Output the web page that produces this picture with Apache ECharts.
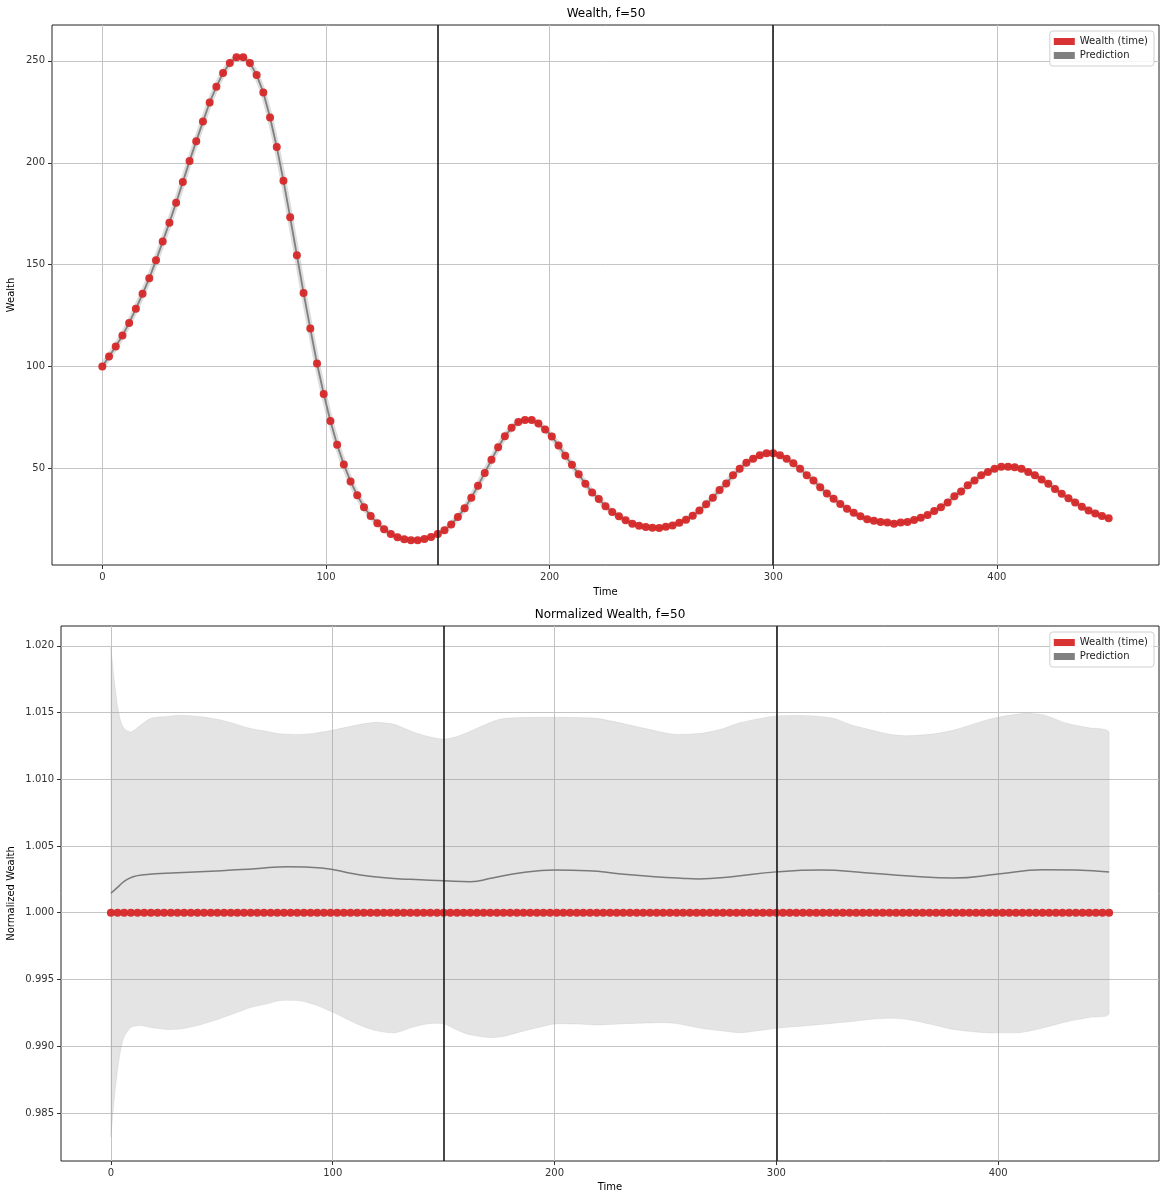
<!DOCTYPE html>
<html>
<head>
<meta charset="utf-8">
<script src="https://cdn.jsdelivr.net/npm/echarts@6/dist/echarts.min.js"></script>
<style>
html,body{margin:0;padding:0;background:#fff;}
#chart{width:1162px;height:1193px;}
</style>
</head>
<body>
<div id="chart"></div>
<script>
// ---- data ----
const time = [0,3,6,9,12,15,18,21,24,27,30,33,36,39,42,45,48,51,54,57,60,63,66,69,72,75,78,81,84,87,90,93,96,99,102,105,108,111,114,117,120,123,126,129,132,135,138,141,144,147,150,153,156,159,162,165,168,171,174,177,180,183,186,189,192,195,198,201,204,207,210,213,216,219,222,225,228,231,234,237,240,243,246,249,252,255,258,261,264,267,270,273,276,279,282,285,288,291,294,297,300,303,306,309,312,315,318,321,324,327,330,333,336,339,342,345,348,351,354,357,360,363,366,369,372,375,378,381,384,387,390,393,396,399,402,405,408,411,414,417,420,423,426,429,432,435,438,441,444,447,450];

const wealth = [100,104.9,109.8,115.2,121.4,128.3,135.7,143.3,152.1,161.3,170.6,180.4,190.5,200.8,210.6,220.2,229.6,237.3,244.1,249.0,251.8,251.8,249.0,243.1,234.5,222.2,207.7,191.2,173.2,154.6,136.1,118.6,101.5,86.5,73.3,61.6,51.9,43.6,36.8,31.0,26.6,23.1,20.2,17.8,16.2,15.2,14.7,14.7,15.4,16.3,17.8,19.6,22.5,26.1,30.4,35.6,41.5,47.8,54.2,60.4,65.8,69.9,72.8,73.8,73.8,72.0,69.1,65.7,61.3,56.2,51.8,47.1,42.5,38.2,35.0,31.4,28.6,26.5,24.5,22.9,21.9,21.2,20.9,20.8,21.4,22.0,23.3,24.8,26.8,29.4,32.4,35.6,39.4,42.6,46.6,49.8,52.8,54.7,56.5,57.4,57.4,56.4,54.7,52.5,49.8,46.7,44.1,40.7,37.7,35.1,32.5,30.2,28.2,26.5,25.1,24.3,23.7,23.4,22.9,23.4,23.7,24.7,25.8,27.1,29.1,31.0,33.3,36.3,38.7,41.7,44.1,46.6,48.3,49.8,50.8,50.8,50.6,49.8,48.3,46.6,44.6,42.5,39.9,37.6,35.3,33.3,31.2,29.4,27.9,26.6,25.5];

const normWealth = [1,1,1,1,1,1,1,1,1,1,1,1,1,1,1,1,1,1,1,1,1,1,1,1,1,1,1,1,1,1,1,1,1,1,1,1,1,1,1,1,1,1,1,1,1,1,1,1,1,1,1,1,1,1,1,1,1,1,1,1,1,1,1,1,1,1,1,1,1,1,1,1,1,1,1,1,1,1,1,1,1,1,1,1,1,1,1,1,1,1,1,1,1,1,1,1,1,1,1,1,1,1,1,1,1,1,1,1,1,1,1,1,1,1,1,1,1,1,1,1,1,1,1,1,1,1,1,1,1,1,1,1,1,1,1,1,1,1,1,1,1,1,1,1,1,1,1,1,1,1,1];

const predT = [0,3,6,10,15,30,50,65,80,95,110,121,135,150,162,172,185,200,215,230,245,257,265,280,300,320,340,360,380,400,420,435,450];
const predNorm = [1.00146,1.0019,1.00235,1.0027,1.00285,1.0030,1.00315,1.0033,1.00345,1.00335,1.0029,1.00265,1.0025,1.0024,1.00232,1.0026,1.0030,1.0032,1.00315,1.0029,1.0027,1.00258,1.00253,1.0027,1.00306,1.0032,1.0030,1.00275,1.0026,1.0029,1.00322,1.0032,1.00305];

const bandT = [0,1.5,3,4.5,6,9,13,18,25,31,40,48,55,63,70,76,85,92,100,112,120,128,136,143,150,156,162,171,176,185,200,210,219,234,249,255,266,275,284,300,315,326,334,345,352,359,371,380,394,401,409,413,421,431,441,450];
const bandUpper = [1.0199,1.0175,1.0155,1.0143,1.0138,1.01354,1.0140,1.01456,1.0147,1.0148,1.0147,1.01449,1.0142,1.0138,1.0136,1.01341,1.01336,1.01345,1.01368,1.0141,1.01426,1.0141,1.01356,1.0132,1.01301,1.0132,1.0136,1.01425,1.01452,1.01462,1.01464,1.01462,1.01456,1.01406,1.0135,1.01336,1.01344,1.01374,1.01425,1.01474,1.01476,1.01455,1.01406,1.0136,1.01335,1.01326,1.0134,1.01368,1.0144,1.01468,1.01488,1.01494,1.0148,1.01419,1.01385,1.01349];
const bandLower = [0.9832,0.986,0.9882,0.9898,0.9907,0.9914,0.99155,0.9914,0.99126,0.99128,0.99159,0.992,0.99241,0.9929,0.99316,0.99341,0.9934,0.9931,0.99254,0.99159,0.99115,0.991,0.99142,0.99168,0.99168,0.99122,0.99085,0.99064,0.9907,0.99109,0.99166,0.99166,0.99159,0.9917,0.99176,0.9917,0.99134,0.99116,0.99101,0.99134,0.99155,0.99172,0.99185,0.99205,0.99209,0.992,0.99159,0.99125,0.99101,0.991,0.99101,0.9911,0.9914,0.99184,0.99215,0.99246];

const splitTimes = [150, 300];
const xTicks = [0,100,200,300,400];
const yTicksTop = [50,100,150,200,250];
const yTicksBottom = [0.985,0.990,0.995,1.000,1.005,1.010,1.015,1.020];

// ---- chart ----
const FONT = 'DejaVu Sans';
const chart = echarts.init(document.getElementById('chart'), null, {renderer:'canvas'});

function xAxisCfg(gridIndex, nameGap){
  return {
    type:'value', gridIndex, min:-22.5, max:472.5,
    name:'Time', nameLocation:'middle', nameGap, nameMoveOverlap:false,
    nameTextStyle:{fontFamily:FONT,fontSize:10,color:'#000'},
    axisLine:{show:false,onZero:false},
    axisTick:{show:true,inside:false,length:4,lineStyle:{color:'#333',width:1},customValues:xTicks},
    axisLabel:{fontFamily:FONT,fontSize:10,color:'#333',margin:7,customValues:xTicks},
    splitLine:{show:true,lineStyle:{color:'#c4c4c4',width:1}}
  };
}
function yAxisCfg(gridIndex, name, nameGap, min, max, ticks, fmt){
  return {
    type:'value', gridIndex, min, max,
    name, nameLocation:'middle', nameGap, nameMoveOverlap:false,
    nameTextStyle:{fontFamily:FONT,fontSize:10,color:'#000'},
    axisLine:{show:false,onZero:false},
    axisTick:{show:true,inside:false,length:4,lineStyle:{color:'#333',width:1},customValues:ticks},
    axisLabel:{fontFamily:FONT,fontSize:10,color:'#333',margin:7,customValues:ticks,formatter:fmt},
    splitLine:{show:true,lineStyle:{color:'#c4c4c4',width:1}}
  };
}
function legendCfg(top){
  return {
    orient:'vertical', right:8, top,
    data:[{name:'Wealth (time)',icon:'rect'},{name:'Prediction',icon:'rect'}],
    itemWidth:21, itemHeight:7, itemGap:3,
    textStyle:{fontFamily:FONT,fontSize:10,color:'#222',lineHeight:11},
    backgroundColor:'rgba(255,255,255,0.85)', borderColor:'#d0d0d0', borderWidth:1, borderRadius:3,
    padding:[5,6,5,4], selectedMode:false
  };
}
const vlines = {
  silent:true, symbol:'none', label:{show:false},
  lineStyle:{color:'#1a1a1a',width:1.6,type:'solid'},
  data: splitTimes.map(t=>({xAxis:t}))
};

const timeWealth = time.map((t,i)=>[t,wealth[i]]);
const timeNorm = time.map((t,i)=>[t,normWealth[i]]);
const predPairs = predT.map((t,i)=>[t,predNorm[i]]);

function renderBand(params, api){
  const pts = [];
  for (let i=0;i<bandT.length;i++) pts.push(api.coord([bandT[i], bandUpper[i]]));
  for (let i=bandT.length-1;i>=0;i--) pts.push(api.coord([bandT[i], bandLower[i]]));
  let x0=Infinity,y0=Infinity,x1=-Infinity,y1=-Infinity;
  pts.forEach(p=>{x0=Math.min(x0,p[0]);x1=Math.max(x1,p[0]);y0=Math.min(y0,p[1]);y1=Math.max(y1,p[1]);});
  return {
    type:'polygon',
    shape:{points:pts, smooth:0.25, smoothConstraint:[[x0,y0],[x1,y1]]},
    style:{fill:'rgba(150,150,150,0.26)', stroke:'rgba(150,150,150,0.2)', lineWidth:0.8},
    silent:true
  };
}

const option = {
  animation:false,
  backgroundColor:'#fff',
  title:[
    {text:'Wealth, f=50', left:606, top:8, textAlign:'center', padding:0,
     textStyle:{fontFamily:FONT,fontSize:12,fontWeight:'normal',color:'#000'}},
    {text:'Normalized Wealth, f=50', left:610, top:609, textAlign:'center', padding:0,
     textStyle:{fontFamily:FONT,fontSize:12,fontWeight:'normal',color:'#000'}}
  ],
  legend:[legendCfg(31), legendCfg(632)],
  grid:[
    {left:52, right:3, top:25, height:540, show:true, borderColor:'#222', borderWidth:1, backgroundColor:'transparent', outerBoundsMode:'none', containLabel:false},
    {left:61, right:3, top:626, height:535, show:true, borderColor:'#222', borderWidth:1, backgroundColor:'transparent', outerBoundsMode:'none', containLabel:false}
  ],
  xAxis:[xAxisCfg(0,22), xAxisCfg(1,21)],
  yAxis:[
    yAxisCfg(0,'Wealth',36,2.6,267.6,yTicksTop,v=>String(v)),
    yAxisCfg(1,'Normalized Wealth',45,0.9814,1.02148,yTicksBottom,v=>v.toFixed(3))
  ],
  series:[
    // top chart
    {type:'line', name:'Prediction', xAxisIndex:0, yAxisIndex:0, data:timeWealth, showSymbol:false,
     lineStyle:{color:'rgba(170,170,170,0.4)',width:6}, itemStyle:{color:'#808080'}, z:1, silent:true},
    {type:'line', name:'Prediction', xAxisIndex:0, yAxisIndex:0, data:timeWealth, showSymbol:false,
     lineStyle:{color:'#808080',width:1.8}, itemStyle:{color:'#808080'}, z:2, markLine:vlines},
    {type:'scatter', name:'Wealth (time)', xAxisIndex:0, yAxisIndex:0, data:timeWealth, symbolSize:8,
     itemStyle:{color:'#d62728',opacity:0.95}, z:3},
    // bottom chart
    {type:'custom', name:'band', xAxisIndex:1, yAxisIndex:1, data:[[0,1]], renderItem:renderBand, z:1, silent:true},
    {type:'line', name:'Prediction', xAxisIndex:1, yAxisIndex:1, data:predPairs, smooth:0.5, showSymbol:false,
     lineStyle:{color:'#7a7a7a',width:1.5}, itemStyle:{color:'#808080'}, z:2, markLine:vlines},
    {type:'scatter', name:'Wealth (time)', xAxisIndex:1, yAxisIndex:1, data:timeNorm, symbolSize:8,
     itemStyle:{color:'#d62728',opacity:0.95}, z:3}
  ]
};
chart.setOption(option);
</script>
</body>
</html>
